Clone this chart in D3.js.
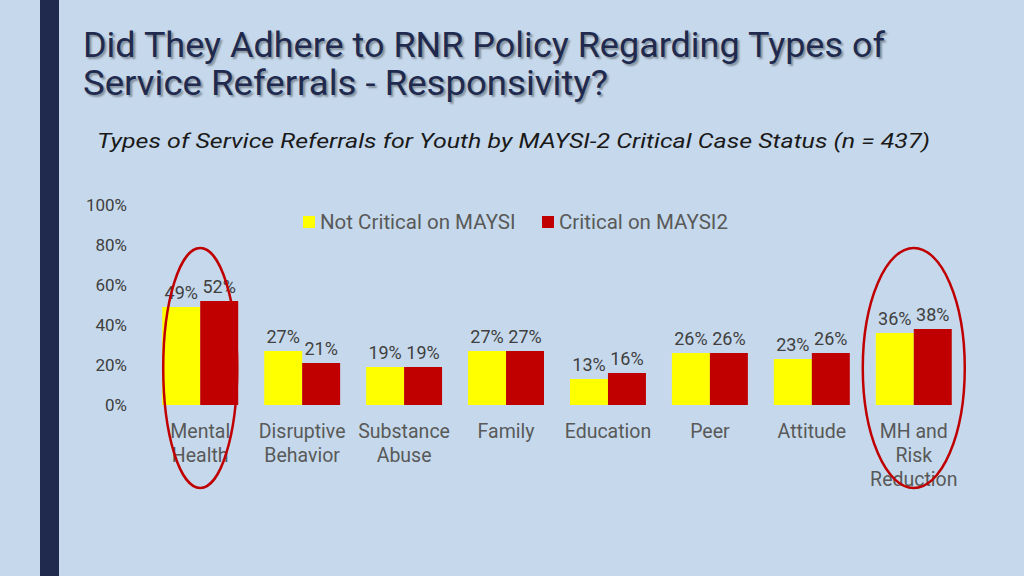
<!DOCTYPE html>
<html><head><meta charset="utf-8">
<script src="https://cdn.jsdelivr.net/npm/d3@7"></script>
<style>body{margin:0;background:#c6d9ec;}svg{display:block}</style>
</head><body>
<svg id="c" width="1024" height="576"></svg>
<script>
const categories=[["Mental","Health"],["Disruptive","Behavior"],["Substance","Abuse"],["Family"],["Education"],["Peer"],["Attitude"],["MH and","Risk","Reduction"]];
const notCritical=[49,27,19,27,13,26,23,36];
const critical=[52,21,19,27,16,26,26,38];
const yTicks=[0,20,40,60,80,100];
const seriesNames=["Not Critical on MAYSI","Critical on MAYSI2"];
const colors=["#ffff00","#c00000"];
const highlighted=[0,7];

const svg=d3.select("#c");
svg.append("rect").attr("width",1024).attr("height",576).attr("fill","#c6d9ec");
svg.append("rect").attr("x",40).attr("y",0).attr("width",19).attr("height",576).attr("fill","#1f2a4e");
const t=svg.append("text").attr("font-family","Roboto, sans-serif").attr("font-size",35).attr("fill","#1f2a4e")
 .attr("textLength",null).attr("style","text-shadow:2px 2px 2px rgba(0,0,0,0.35)");
t.append("tspan").attr("x",83).attr("y",57).attr("textLength",802).attr("lengthAdjust","spacingAndGlyphs").text("Did They Adhere to RNR Policy Regarding Types of");
t.append("tspan").attr("x",83).attr("y",95).attr("textLength",525).attr("lengthAdjust","spacingAndGlyphs").text("Service Referrals - Responsivity?");
svg.append("text").attr("x",97).attr("y",148).attr("font-family","Roboto, sans-serif").attr("font-style","italic")
 .attr("font-size",21).attr("textLength",833).attr("lengthAdjust","spacingAndGlyphs").attr("fill","#1a1a1a").text("Types of Service Referrals for Youth by MAYSI-2 Critical Case Status (n = 437)");

const y=d3.scaleLinear().domain([0,100]).range([405,205]);
const x=d3.scaleBand().domain(d3.range(categories.length)).range([149,965]).paddingInner(0.255).paddingOuter(0.13);
const xs=d3.scaleBand().domain([0,1]).range([0,x.bandwidth()]);

const ax=svg.append("g").attr("transform","translate(130,0)").call(d3.axisLeft(y).tickValues(yTicks).tickFormat(d=>d+"%").tickSize(0));
ax.select(".domain").remove();
ax.selectAll("text").attr("font-family","Roboto, sans-serif").attr("font-size",17).attr("fill","#404040");

const g=svg.selectAll("g.cat").data(categories).enter().append("g").attr("transform",(d,i)=>`translate(${x(i)},0)`);
[notCritical,critical].forEach((arr,s)=>{
 g.append("rect").attr("x",xs(s)).attr("width",xs.bandwidth()).attr("y",(d,i)=>y(arr[i])).attr("height",(d,i)=>405-y(arr[i])).attr("fill",colors[s]);
 g.append("text").attr("x",xs(s)+xs.bandwidth()/2).attr("y",(d,i)=>y(arr[i])-8)
  .attr("text-anchor","middle").attr("font-family","Roboto, sans-serif").attr("font-size",18).attr("fill","#404040").text((d,i)=>arr[i]+"%");
});
g.each(function(d,i){
 const tx=d3.select(this).append("text").attr("text-anchor","middle").attr("font-family","Roboto, sans-serif").attr("font-size",19.5).attr("fill","#595959");
 d.forEach((l,k)=>tx.append("tspan").attr("x",x.bandwidth()/2).attr("y",438+k*24).text(l));
});
highlighted.forEach(i=>{
 svg.append("ellipse").attr("cx",x(i)+x.bandwidth()/2).attr("cy",y(18.5)).attr("rx",i===7?51:37).attr("ry",120)
  .attr("fill","none").attr("stroke","#c00000").attr("stroke-width",2.5);
});
const lg=svg.append("g");
[303,542].forEach((lx,s)=>{
 lg.append("rect").attr("x",lx).attr("y",216).attr("width",12).attr("height",12).attr("fill",colors[s]);
 lg.append("text").attr("x",lx+17).attr("y",229).attr("font-family","Roboto, sans-serif").attr("font-size",20.5).attr("fill","#595959").text(seriesNames[s]);
});
</script></body></html>
